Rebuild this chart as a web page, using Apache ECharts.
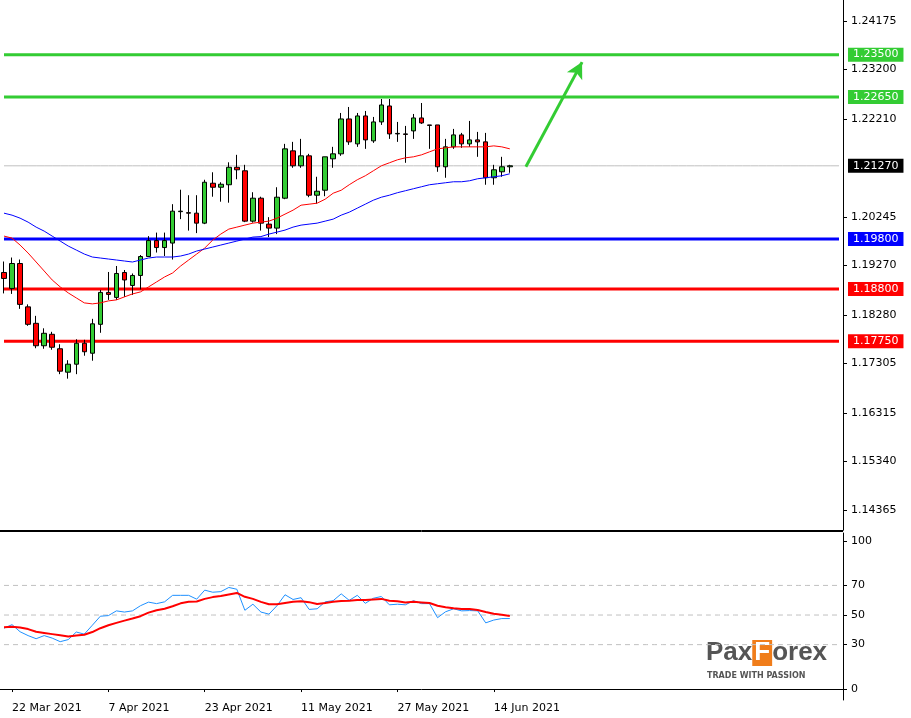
<!DOCTYPE html>
<html><head><meta charset="utf-8">
<script src="https://cdn.jsdelivr.net/npm/echarts@6/dist/echarts.min.js"></script>
<style>html,body{margin:0;padding:0;background:#fff}#c{width:911px;height:718px}</style>
</head><body><div id="c"></div>
<script>
const openP = [1.1913,1.1881,1.1931,1.1844,1.1811,1.1766,1.1789,1.1760,1.1713,1.1729,1.1771,1.1751,1.1809,1.1873,1.1863,1.1913,1.1887,1.1907,1.1945,1.1977,1.1963,1.1972,1.2035,1.2033,1.2032,1.2012,1.2092,1.2084,1.2089,1.2124,1.2117,1.2016,1.2062,1.2010,1.2002,1.2062,1.2157,1.2127,1.2147,1.2068,1.2078,1.2141,1.2151,1.2221,1.2171,1.2227,1.2177,1.2215,1.2247,1.2191,1.2191,1.2197,1.2223,1.2209,1.2209,1.2125,1.2165,1.2189,1.2171,1.2179,1.2175,1.2103,1.2115,1.2125];
const closeP = [1.1901,1.1931,1.1849,1.1809,1.1766,1.1791,1.1763,1.1715,1.1729,1.1771,1.1754,1.1810,1.1873,1.1869,1.1911,1.1898,1.1907,1.1945,1.1977,1.1963,1.1977,1.2036,1.2036,1.2032,1.2012,1.2094,1.2084,1.2090,1.2124,1.2119,1.2016,1.2062,1.2012,1.2002,1.2064,1.2161,1.2127,1.2147,1.2068,1.2076,1.2145,1.2151,1.2221,1.2175,1.2227,1.2179,1.2215,1.2249,1.2191,1.2192,1.2190,1.2223,1.2213,1.2208,1.2125,1.2165,1.2189,1.2171,1.2179,1.2175,1.2103,1.2119,1.2125,1.2127];
const highP = [1.1935,1.1943,1.1939,1.1849,1.1826,1.1801,1.1794,1.1769,1.1737,1.1779,1.1778,1.1820,1.1878,1.1914,1.1926,1.1918,1.1911,1.1948,1.1986,1.1993,1.1993,1.2050,1.2079,1.2068,1.2068,1.2099,1.2114,1.2094,1.2134,1.2149,1.2129,1.2074,1.2065,1.2024,1.2084,1.2171,1.2175,1.2181,1.2151,1.2105,1.2145,1.2165,1.2233,1.2245,1.2233,1.2237,1.2225,1.2261,1.2261,1.2215,1.2207,1.2231,1.2253,1.2209,1.2209,1.2181,1.2201,1.2193,1.2217,1.2195,1.2193,1.2129,1.2145,1.2129];
const lowP = [1.1871,1.1870,1.1840,1.1806,1.1761,1.1760,1.1758,1.1709,1.1700,1.1709,1.1746,1.1736,1.1792,1.1858,1.1858,1.1864,1.1868,1.1879,1.1944,1.1953,1.1946,1.1939,1.2020,1.1997,1.1992,1.2010,1.2065,1.2055,1.2053,1.2100,1.2014,1.2013,1.1997,1.1984,1.1990,1.2060,1.2123,1.2123,1.2064,1.2051,1.2066,1.2123,1.2147,1.2169,1.2165,1.2161,1.2173,1.2209,1.2181,1.2175,1.2133,1.2181,1.2211,1.2161,1.2115,1.2103,1.2161,1.2163,1.2165,1.2145,1.2089,1.2089,1.2105,1.2113];
const maFast = [1.1986,1.1982,1.1968,1.1952,1.1934,1.1916,1.1898,1.1884,1.1872,1.1862,1.1852,1.1850,1.1852,1.1856,1.1858,1.1864,1.1870,1.1874,1.1884,1.1894,1.1904,1.1912,1.1926,1.1938,1.1950,1.1962,1.1978,1.1990,1.2000,1.2004,1.2008,1.2012,1.2014,1.2016,1.2022,1.2030,1.2038,1.2048,1.2050,1.2052,1.2060,1.2072,1.2078,1.2089,1.2099,1.2107,1.2117,1.2127,1.2133,1.2139,1.2143,1.2145,1.2149,1.2155,1.2161,1.2163,1.2165,1.2165,1.2165,1.2165,1.2165,1.2167,1.2165,1.2161];
const maSlow = [1.2032,1.2028,1.2022,1.2014,1.2004,1.1996,1.1986,1.1976,1.1966,1.1958,1.1950,1.1944,1.1942,1.1940,1.1938,1.1936,1.1934,1.1938,1.1942,1.1944,1.1944,1.1944,1.1946,1.1950,1.1956,1.1960,1.1964,1.1968,1.1972,1.1976,1.1980,1.1984,1.1985,1.1990,1.1994,1.1998,1.2004,1.2008,1.2010,1.2012,1.2016,1.2020,1.2028,1.2034,1.2042,1.2050,1.2058,1.2064,1.2068,1.2073,1.2077,1.2081,1.2085,1.2089,1.2091,1.2093,1.2095,1.2095,1.2097,1.2101,1.2103,1.2105,1.2107,1.2111];
const rsi = [41.1,43.5,38.7,36.1,34.0,36.1,34.4,32.0,33.4,38.5,37.1,43.1,49.2,49.6,52.8,52.0,52.8,56.3,58.7,57.7,58.9,63.3,63.3,63.3,60.7,66.8,65.4,65.8,68.6,67.4,53.2,57.3,52.0,50.6,56.3,63.7,60.5,61.7,53.8,54.2,58.9,59.7,64.3,59.9,63.3,57.9,61.3,62.5,56.9,57.3,56.9,59.7,57.7,57.7,48.2,52.2,54.2,52.8,53.0,52.8,44.7,46.6,47.6,47.6];
const rsiSignal = [41.7,42.1,41.5,40.5,38.7,37.9,37.1,36.3,35.5,36.1,36.7,38.5,41.1,43.1,44.7,46.2,47.6,49.2,51.6,53.2,54.2,55.9,57.9,58.9,59.1,60.9,62.1,62.9,63.9,64.9,62.3,60.9,58.9,57.3,57.3,58.1,58.9,59.3,58.7,57.5,58.1,58.9,59.5,59.7,60.1,60.1,60.5,60.9,59.7,59.3,58.5,58.9,58.5,58.1,56.3,55.3,54.6,54.0,54.0,53.4,52.0,50.8,50.2,49.4];
const priceTicks = [1.24175,1.23200,1.22210,1.20245,1.19270,1.18280,1.17305,1.16315,1.15340,1.14365];
const rsiTicks = [0,30,50,70,100];
const rsiGuides = [30,50,70];
const dateLabels = ['22 Mar 2021','7 Apr 2021','23 Apr 2021','11 May 2021','27 May 2021','14 Jun 2021'];
const levels = [
  {v:1.2127, c:'#c0c0c0', w:1, t:'1.21270', bg:'#000'},
  {v:1.2350, c:'#33cc33', w:3, t:'1.23500'},
  {v:1.2265, c:'#33cc33', w:3, t:'1.22650'},
  {v:1.1980, c:'#0000ff', w:3, t:'1.19800'},
  {v:1.1880, c:'#ff0000', w:3, t:'1.18800'},
  {v:1.1775, c:'#ff0000', w:3, t:'1.17750'}
];
const arrowFrom = [65, 1.2125], arrowTo = [72, 1.2335];

const mon = ['Jan','Feb','Mar','Apr','May','Jun','Jul'];
const cats = [];
let d = new Date(Date.UTC(2021,2,19));
while (cats.length < 105) {
  const wd = d.getUTCDay();
  if (wd !== 0 && wd !== 6) cats.push(d.getUTCDate()+' '+mon[d.getUTCMonth()]+' 2021');
  d = new Date(d.getTime()+86400000);
}
const N = cats.length;
const candles = openP.map((o,i)=>[o, closeP[i], lowP[i], highP[i]]);
const font = 'DejaVu Sans';
const showDate = (i, v) => dateLabels.includes(v);

const levelSeries = levels.map(l=>({
  type:'line', xAxisIndex:0, yAxisIndex:0, data:cats.map(()=>l.v), symbol:'none', silent:true, z:1,
  lineStyle:{color:l.c, width:l.w},
  endLabel:{show:true, formatter:l.t, color:'#fff', backgroundColor:l.bg||l.c, fontFamily:font, fontSize:11,
            padding:[2,5,1,5], distance:9}
}));
const guideSeries = rsiGuides.map(g=>({
  type:'line', xAxisIndex:1, yAxisIndex:1, data:cats.map(()=>g), symbol:'none', silent:true, z:1,
  lineStyle:{color:'#c0c0c0', width:1, type:[5,4]}
}));

const chart = echarts.init(document.getElementById('c'));
chart.setOption({
  animation:false,
  grid:[
    {left:0, right:68, top:0, height:530},
    {left:0, right:68, top:533, height:167}
  ],
  xAxis:[
    {gridIndex:0, type:'category', data:cats, boundaryGap:true,
     axisLine:{show:true, lineStyle:{color:'#000'}}, axisTick:{show:false}, axisLabel:{show:false}, splitLine:{show:false}},
    {gridIndex:1, type:'category', data:cats, boundaryGap:true,
     axisLine:{show:true, lineStyle:{color:'#000'}},
     axisTick:{show:true, interval:showDate, alignWithLabel:true, length:3, lineStyle:{color:'#000'}},
     axisLabel:{interval:showDate, align:'left', margin:3, fontFamily:font, fontSize:11, color:'#000'},
     splitLine:{show:false}}
  ],
  yAxis:[
    {gridIndex:0, type:'value', position:'right', min:1.13964, max:1.24596,
     axisLine:{show:true, lineStyle:{color:'#000'}},
     axisTick:{show:true, customValues:priceTicks, length:4, lineStyle:{color:'#000'}},
     axisLabel:{customValues:priceTicks, formatter:v=>v.toFixed(5), fontFamily:font, fontSize:11, color:'#000', margin:8},
     splitLine:{show:false}},
    {gridIndex:1, type:'value', position:'right', min:-7.4, max:105.4,
     axisLine:{show:true, lineStyle:{color:'#000'}},
     axisTick:{show:true, customValues:rsiTicks, length:4, lineStyle:{color:'#000'}},
     axisLabel:{customValues:rsiTicks, fontFamily:font, fontSize:11, color:'#000', margin:8},
     splitLine:{show:false}}
  ],
  graphic:[
    {type:'line', shape:{x1:0,y1:531.5,x2:843,y2:531.5}, style:{stroke:'#000', lineWidth:1}},
    {type:'text', left:706, top:640, style:{text:'{a|Pax}{b|F}{a|orex}', rich:{
      a:{fontFamily:'Liberation Sans', fontSize:26, fontWeight:'bold', fill:'#555'},
      b:{fontFamily:'Liberation Sans', fontSize:26, fontWeight:'bold', fill:'#fff', backgroundColor:'#f07d1a', padding:[0,2]}}}},
    {type:'text', left:707, top:672, style:{text:'TRADE WITH PASSION', fontFamily:font, fontSize:8, fill:'#555', fontWeight:'bold'}}
  ],
  series: levelSeries.concat(guideSeries).concat([
    {type:'candlestick', xAxisIndex:0, yAxisIndex:0, data:candles, barWidth:5, z:3,
     itemStyle:{color:'#33cc33', color0:'#ff0000', borderColor:'#000', borderColor0:'#000', borderWidth:1}},
    {type:'line', xAxisIndex:0, yAxisIndex:0, data:maFast, symbol:'none', lineStyle:{color:'#ff0000', width:1}, z:4},
    {type:'line', xAxisIndex:0, yAxisIndex:0, data:maSlow, symbol:'none', lineStyle:{color:'#0000ff', width:1}, z:4},
    {type:'line', xAxisIndex:0, yAxisIndex:0, z:4, silent:true, lineStyle:{color:'#33cc33', width:3},
     data:[{value:arrowFrom, symbol:'none'},
           {value:arrowTo, symbol:'arrow', symbolSize:[13,16], symbolRotate:-28, itemStyle:{color:'#33cc33'}}],
     showAllSymbol:true},
    {type:'line', xAxisIndex:1, yAxisIndex:1, data:rsi, symbol:'none', lineStyle:{color:'#1e90ff', width:1}, z:3},
    {type:'line', xAxisIndex:1, yAxisIndex:1, data:rsiSignal, symbol:'none', lineStyle:{color:'#ff0000', width:2}, z:3}
  ])
});
</script></body></html>
